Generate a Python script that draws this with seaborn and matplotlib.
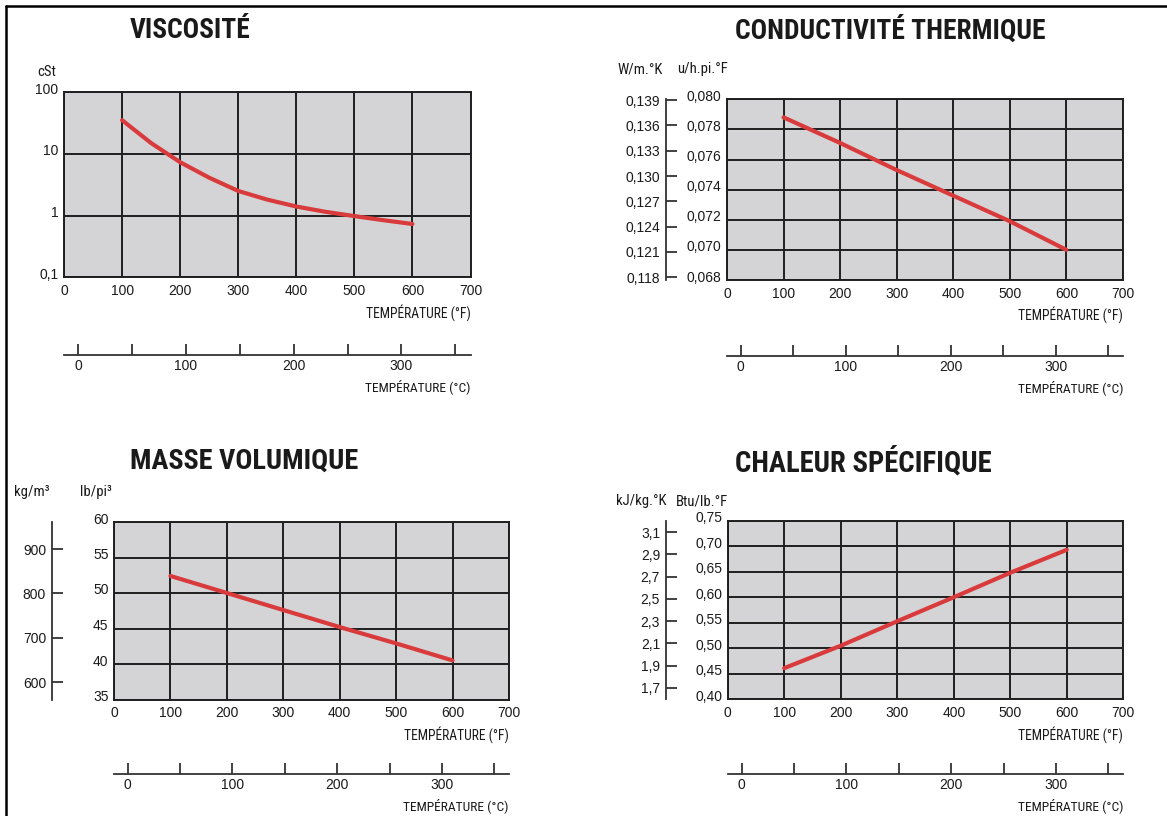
import numpy as np
import pandas as pd
import matplotlib
matplotlib.use("Agg")
import matplotlib.pyplot as plt
import seaborn as sns
from matplotlib import font_manager, transforms
from matplotlib.lines import Line2D
from matplotlib.ticker import NullLocator

# ---------------- data ----------------
temp_f = [100, 200, 300, 400, 500, 600]
visc_temp_f = [100, 150, 200, 250, 300, 350, 400, 450, 500, 550, 600]
visc_cst = [35, 14.9, 7.3, 4.1, 2.5, 1.81, 1.4, 1.15, 0.98, 0.84, 0.73]
cond_btu = [0.0788, 0.0771, 0.0753, 0.0736, 0.0719, 0.0700]
dens_lb = [52.4, 50.0, 47.6, 45.2, 42.9, 40.5]
cp_btu = [0.461, 0.505, 0.553, 0.600, 0.648, 0.693]

titles = ["VISCOSITÉ", "CONDUCTIVITÉ THERMIQUE", "MASSE VOLUMIQUE", "CHALEUR SPÉCIFIQUE"]
f_ticks = [0, 100, 200, 300, 400, 500, 600, 700]
c_ticks = [0, 50, 100, 150, 200, 250, 300, 350]
c_labels = ["0", "", "100", "", "200", "", "300", ""]
visc_ticks = [0.1, 1, 10, 100]
visc_labels = ["0,1", "1", "10", "100"]
cond_ticks = [0.068, 0.070, 0.072, 0.074, 0.076, 0.078, 0.080]
cond_w_ticks = [0.118, 0.121, 0.124, 0.127, 0.130, 0.133, 0.136, 0.139]
dens_ticks = [35, 40, 45, 50, 55, 60]
dens_kg_ticks = [600, 700, 800, 900]
cp_ticks = [0.40, 0.45, 0.50, 0.55, 0.60, 0.65, 0.70, 0.75]
cp_kj_ticks = [1.7, 1.9, 2.1, 2.3, 2.5, 2.7, 2.9, 3.1]


def comma(vals, fmt):
    return [format(v, fmt).replace(".", ",") for v in vals]


# ---------------- fonts ----------------
FL = font_manager.fontManager.ttflist


def has(name, weight=None):
    for f in FL:
        if f.name != name:
            continue
        if weight is None:
            return True
        w = f.weight
        if isinstance(w, str):
            w = {"bold": 700, "heavy": 800, "black": 900, "extra bold": 800,
                 "semibold": 600, "demibold": 600}.get(w.lower(), 400)
        if w >= weight:
            return True
    return False


def pick(cands, weight=None, default="DejaVu Sans"):
    for c in cands:
        if has(c, weight):
            return c
    return default


TITLE_F = pick(["Roboto Condensed", "Barlow Condensed", "Archivo Narrow",
                "Open Sans Condensed", "IBM Plex Sans Condensed", "Oswald"], 700)
COND_F = pick(["Roboto Condensed", "IBM Plex Sans Condensed", "Barlow Condensed",
               "Archivo Narrow", "Liberation Sans Narrow"])
REG_F = pick(["Liberation Sans", "Arimo"])

sns.set_style("white")
plt.rcParams["font.family"] = [REG_F, "DejaVu Sans"]

GRAY = "#d4d4d6"
GRID = "#1f1f1f"
RED = "#d93b3c"
TXT = "#1a1a1a"
TICK_FS = 10

W, H = 1167, 816
fig = plt.figure(figsize=(W / 100, H / 100), dpi=100)
fig.patch.set_facecolor("white")


def px_axes(l, t, r, b):
    return fig.add_axes([l / W, 1 - b / H, (r - l) / W, (b - t) / H])


def f2c(f):
    return (np.asarray(f, dtype=float) - 24.5) / 1.855


def c2f(c):
    return 24.5 + 1.855 * np.asarray(c, dtype=float)


xlabels = []


def style_panel(ax, yticks, ylabels, ylim, log=False):
    ax.set_facecolor(GRAY)
    if log:
        ax.set_yscale("log")
    ax.set_xlim(0, 700)
    ax.set_ylim(*ylim)
    ax.set_xticks(f_ticks)
    ax.set_xticklabels([str(v) for v in f_ticks])
    ax.set_yticks(yticks)
    ax.set_yticklabels(ylabels)
    if log:
        ax.yaxis.set_minor_locator(NullLocator())
    ax.grid(True, color=GRID, lw=1.4)
    ax.set_axisbelow(True)
    ax.tick_params(axis="both", length=0, labelsize=TICK_FS, labelcolor=TXT)
    ax.tick_params(axis="x", pad=5)
    ax.tick_params(axis="y", pad=4)
    for s in ax.spines.values():
        s.set_color(GRID)
        s.set_linewidth(1.4)
        s.set_visible(True)
    sec = ax.secondary_xaxis(-0.42, functions=(f2c, c2f))
    sec.set_xticks(c_ticks)
    sec.set_xticklabels(c_labels)
    sec.tick_params(direction="in", length=8, width=1.3, pad=3, labelsize=TICK_FS,
                    labelcolor=TXT, color="#333333")
    sec.spines["bottom"].set_linewidth(1.3)
    sec.spines["bottom"].set_color("#333333")
    sec.set_xlabel("TEMPÉRATURE (°C)", loc="right", fontsize=9.6,
                   family=[COND_F, "DejaVu Sans"], color=TXT, labelpad=4)
    xlabels.append(sec.xaxis.label)
    return sec


def outer_axis(ax, loc, fwd, inv, ticks, labels):
    sa = ax.secondary_yaxis(loc, functions=(fwd, inv))
    sa.set_yticks(ticks)
    sa.set_yticklabels(labels)
    sa.tick_params(direction="in", length=8, width=1.3, pad=4, labelsize=TICK_FS,
                   labelcolor=TXT, color="#333333")
    sa.spines["left"].set_linewidth(1.3)
    sa.spines["left"].set_color("#333333")
    return sa


def red_line(ax, x, y):
    df = pd.DataFrame({"x": x, "y": y})
    sns.lineplot(data=df, x="x", y="y", ax=ax, color=RED, linewidth=3.0,
                 solid_capstyle="round", zorder=3)
    ax.set_xlabel("TEMPÉRATURE (°F)", loc="right", fontsize=9.6,
                  family=[COND_F, "DejaVu Sans"], color=TXT, labelpad=4)
    xlabels.append(ax.xaxis.label)
    ax.set_ylabel("")


# ---------------- panel 1: viscosity ----------------
ax1 = px_axes(64, 92, 470.5, 277.3)
style_panel(ax1, visc_ticks, visc_labels, (0.1, 100), log=True)
red_line(ax1, visc_temp_f, visc_cst)

# ---------------- panel 2: conductivity ----------------
ax2 = px_axes(727, 99.3, 1123, 280)
style_panel(ax2, cond_ticks, comma(cond_ticks, ".3f"), (0.068, 0.080))
red_line(ax2, temp_f, cond_btu)
outer_axis(ax2, -0.155,
           lambda b: 0.1391 + (np.asarray(b, dtype=float) - 0.080) * 1.785,
           lambda w: 0.080 + (np.asarray(w, dtype=float) - 0.1391) / 1.785,
           cond_w_ticks, comma(cond_w_ticks, ".3f"))

# ---------------- panel 3: density ----------------
ax3 = px_axes(114, 522, 509, 699.5)
style_panel(ax3, dens_ticks, [str(v) for v in dens_ticks], (35, 60))
red_line(ax3, temp_f, dens_lb)
outer_axis(ax3, -0.158,
           lambda b: np.asarray(b, dtype=float) * 16.018,
           lambda k: np.asarray(k, dtype=float) / 16.018,
           dens_kg_ticks, [str(v) for v in dens_kg_ticks])

# ---------------- panel 4: specific heat ----------------
ax4 = px_axes(727.7, 520.7, 1123.3, 699.3)
style_panel(ax4, cp_ticks, comma(cp_ticks, ".2f"), (0.40, 0.75))
red_line(ax4, temp_f, cp_btu)
outer_axis(ax4, -0.157,
           lambda b: 2.5 + (np.asarray(b, dtype=float) - 0.5969) * 4.59,
           lambda k: 0.5969 + (np.asarray(k, dtype=float) - 2.5) / 4.59,
           cp_kj_ticks, comma(cp_kj_ticks, ".1f"))


# ---------------- titles & units ----------------
def ftext(x, y, s, **kw):
    return fig.text(x / W, 1 - y / H, s, ha="center", va="center", color=TXT, **kw)


title_kw = dict(fontsize=19.5, fontweight="bold", family=[TITLE_F, "DejaVu Sans"])
fitted = [
    (ftext(190, 31, titles[0], **title_kw), 121),
    (ftext(890, 31, titles[1], **title_kw), 310),
    (ftext(244, 461, titles[2], **title_kw), 228),
    (ftext(863, 462, titles[3], **title_kw), 257),
]

unit_kw = dict(fontsize=10.6, family=[COND_F, "DejaVu Sans"])
ftext(47, 72, "cSt", **unit_kw)
ftext(640, 69, "W/m.°K", **unit_kw)
ftext(703, 69, "u/h.pi.°F", **unit_kw)
ftext(32, 492, "kg/m³", **unit_kw)
ftext(96, 492, "lb/pi³", **unit_kw)
ftext(641, 501, "kJ/kg.°K", **unit_kw)
ftext(702, 501, "Btu/lb.°F", **unit_kw)

# page border (left and top)
fig.add_artist(Line2D([6 / W, 6 / W], [0, 1 - 6 / H], transform=fig.transFigure,
                      color="black", lw=1.8))
fig.add_artist(Line2D([6 / W, 1], [1 - 6 / H, 1 - 6 / H], transform=fig.transFigure,
                      color="black", lw=1.8))

# fit text widths to the reference
fig.canvas.draw()
rend = fig.canvas.get_renderer()
for t, target in fitted:
    w = t.get_window_extent(rend).width
    if w > 0:
        t.set_fontsize(t.get_fontsize() * target / w)
for lab in xlabels:
    w = lab.get_window_extent(rend).width
    if w > 0:
        lab.set_fontsize(lab.get_fontsize() * 106 / w)

# lift inner y tick labels slightly above their grid lines
lift = transforms.ScaledTranslation(0, 0.04, fig.dpi_scale_trans)
for ax in (ax1, ax2, ax3, ax4):
    for tk in ax.yaxis.get_major_ticks():
        tk.label1.set_transform(tk.label1.get_transform() + lift)

fig.savefig("out.png", dpi=100)
